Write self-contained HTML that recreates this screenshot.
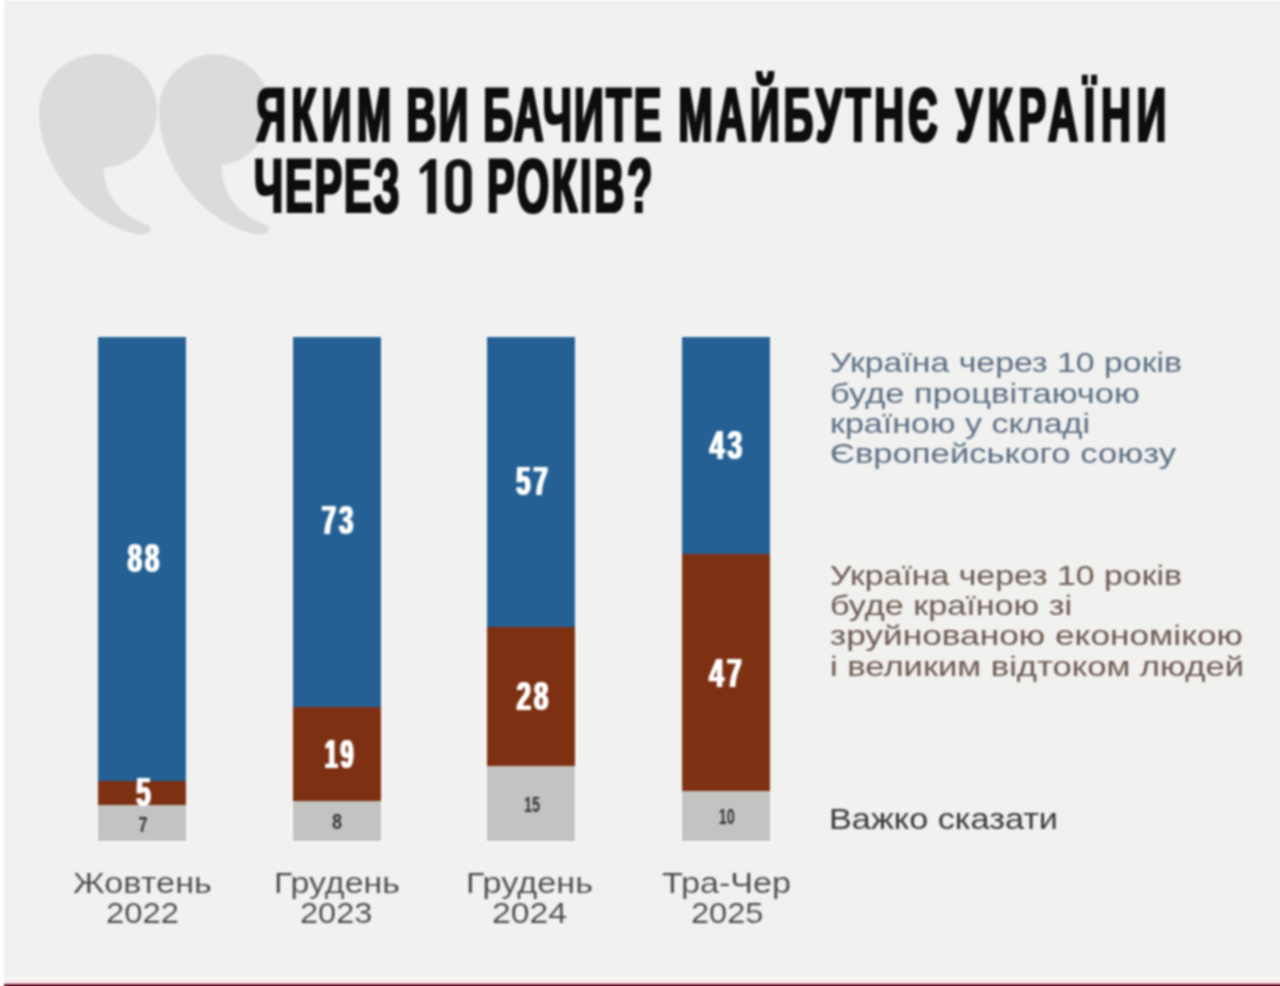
<!DOCTYPE html>
<html><head><meta charset="utf-8">
<style>
html,body{margin:0;padding:0;width:1280px;height:986px;overflow:hidden;background:#f1f1ef;}
svg{display:block;position:absolute;left:-10px;top:-10px;filter:blur(0.8px);}
</style></head>
<body>
<svg width="1300" height="1006" viewBox="-10 -10 1300 1006">
<rect x="-10" y="-10" width="1300" height="1006" fill="#f1f1ef"/>
<rect x="-10" y="-10" width="14" height="1006" fill="#ffffff"/>
<rect x="-10" y="-10" width="1300" height="11" fill="#ffffff"/>
<rect x="4" y="1" width="1286" height="2" fill="#ebebea"/>
<rect x="4" y="977" width="1286" height="3" fill="#f6f7f6"/>
<rect x="4" y="980" width="1286" height="4" fill="#fbe4e8"/>
<rect x="4" y="984" width="1286" height="12" fill="#5a0f22"/>

<!-- quote marks -->
<g fill="#dbdbda">
  <path d="M100,54 A57,57 0 0 1 103.5,167.9 C104,190 116,214 148,225 C155,228 150,236 138,234.5 C82,222 39,165 39,112 C39,80 66,54 100,54 Z"/>
  <path d="M215,54.5 A55.5,55.5 0 0 1 221.5,165.1 C222,190 234,214 266,225 C273,228 268,236 256,234.5 C201,222 159,165 159,111 C159,79 184,54.5 215,54.5 Z"/>
</g>

<!-- title -->
<filter id="thick" x="-5%" y="-20%" width="110%" height="140%"><feMorphology operator="dilate" radius="0.9 0.5"/></filter>
<g filter="url(#thick)" font-family="Liberation Sans" font-weight="bold" fill="#111111" font-size="75.5">
  <text transform="translate(256.35,141) scale(0.55,1)" letter-spacing="9.281">ЯКИМ</text>
  <text transform="translate(406.15,141) scale(0.55,1)" letter-spacing="4.476">ВИ</text>
  <text transform="translate(483.15,141) scale(0.55,1)" letter-spacing="4.026">БАЧИТЕ</text>
  <text transform="translate(678.15,141) scale(0.55,1)" letter-spacing="6.605">МАЙБУТНЄ</text>
  <text transform="translate(955.90,141) scale(0.55,1)" letter-spacing="10.317">УКРАЇНИ</text>
  <text transform="translate(254.00,212) scale(0.55,1)" letter-spacing="3.356">ЧЕРЕЗ</text>
  <text transform="translate(486.90,212) scale(0.55,1)" letter-spacing="5.011">РОКІВ?</text>
</g>
<g fill="#111111">
  <path d="M427.3,213.4 L427.3,169.5 L423.5,172.8 Q420,175.5 419.6,171.5 Q419.4,168.8 422,166.8 L430.2,159 L436.2,159 L436.2,213.4 Z"/>
  <path fill-rule="evenodd" d="M458.6,159 C466.5,159 471.8,164 471.8,172 L471.8,200.4 C471.8,208.4 466.5,213.4 458.6,213.4 C450.7,213.4 445.4,208.4 445.4,200.4 L445.4,172 C445.4,164 450.7,159 458.6,159 Z M458.2,166.3 C455.4,166.3 453.3,168.3 453.3,171.5 L453.3,200.8 C453.3,204 455.4,206 458.2,206 C461.1,206 463.2,204 463.2,200.8 L463.2,171.5 C463.2,168.3 461.1,166.3 458.2,166.3 Z"/>
</g>

<!-- bars -->
<g fill="#f4f7f6">
  <rect x="96" y="335" width="92" height="508"/>
  <rect x="291" y="335" width="92" height="508"/>
  <rect x="485" y="335" width="92" height="508"/>
  <rect x="680" y="335" width="92" height="508"/>
</g>
<g>
  <rect x="98" y="337" width="88" height="444" fill="#246094"/>
  <rect x="98" y="781" width="88" height="24" fill="#7d3012"/>
  <rect x="98" y="805" width="88" height="36" fill="#c3c3c1"/>

  <rect x="293" y="337" width="88" height="370" fill="#246094"/>
  <rect x="293" y="707" width="88" height="94" fill="#7d3012"/>
  <rect x="293" y="801" width="88" height="40" fill="#c3c3c1"/>

  <rect x="487" y="337" width="88" height="290" fill="#246094"/>
  <rect x="487" y="627" width="88" height="139" fill="#7d3012"/>
  <rect x="487" y="766" width="88" height="75" fill="#c3c3c1"/>

  <rect x="682" y="337" width="88" height="217" fill="#246094"/>
  <rect x="682" y="554" width="88" height="237" fill="#7d3012"/>
  <rect x="682" y="791" width="88" height="50" fill="#c3c3c1"/>
</g>

<!-- bar numbers -->
<filter id="thin" x="-20%" y="-20%" width="140%" height="140%"><feMorphology operator="dilate" radius="0.6 0.15"/></filter>
<g filter="url(#thin)" font-family="Liberation Sans" font-weight="bold" fill="#ffffff" font-size="41.5" text-anchor="middle" letter-spacing="5">
  <text x="145" y="571.5" textLength="34.5" lengthAdjust="spacingAndGlyphs">88</text>
  <text x="145" y="805.5" textLength="17.5" lengthAdjust="spacingAndGlyphs">5</text>
  <text x="339" y="533.5" textLength="34.5" lengthAdjust="spacingAndGlyphs">73</text>
  <text x="340.5" y="767.5" textLength="31.5" lengthAdjust="spacingAndGlyphs">19</text>
  <text x="533.5" y="494.5" textLength="34.5" lengthAdjust="spacingAndGlyphs">57</text>
  <text x="533.9" y="709.5" textLength="34.5" lengthAdjust="spacingAndGlyphs">28</text>
  <text x="727.5" y="458.5" textLength="35.5" lengthAdjust="spacingAndGlyphs">43</text>
  <text x="727" y="686.5" textLength="35.5" lengthAdjust="spacingAndGlyphs">47</text>
</g>
<g font-family="Liberation Sans" font-weight="bold" fill="#333333" font-size="22" text-anchor="middle">
  <text x="143" y="832" textLength="9" lengthAdjust="spacingAndGlyphs">7</text>
  <text x="337" y="828.5" textLength="10" lengthAdjust="spacingAndGlyphs">8</text>
  <text x="532" y="812" textLength="16" lengthAdjust="spacingAndGlyphs">15</text>
  <text x="726.7" y="824" textLength="16" lengthAdjust="spacingAndGlyphs">10</text>
</g>

<!-- axis labels -->
<g font-family="Liberation Sans" fill="#474747" stroke="#f1f1ef" stroke-width="0.15" font-size="30">
  <text x="73" y="893" textLength="139" lengthAdjust="spacingAndGlyphs">Жовтень</text>
  <text x="106" y="923" textLength="73" lengthAdjust="spacingAndGlyphs">2022</text>
  <text x="274" y="893" textLength="126" lengthAdjust="spacingAndGlyphs">Грудень</text>
  <text x="300" y="923" textLength="72.5" lengthAdjust="spacingAndGlyphs">2023</text>
  <text x="466" y="893" textLength="127" lengthAdjust="spacingAndGlyphs">Грудень</text>
  <text x="492" y="923" textLength="75" lengthAdjust="spacingAndGlyphs">2024</text>
  <text x="662" y="893" textLength="129" lengthAdjust="spacingAndGlyphs">Тра-Чер</text>
  <text x="691" y="923" textLength="72.5" lengthAdjust="spacingAndGlyphs">2025</text>
</g>

<!-- legend -->
<g font-family="Liberation Sans" font-size="27.5">
  <g fill="#5a6d83">
    <text x="830" y="372" textLength="352" lengthAdjust="spacingAndGlyphs">Україна через 10 років</text>
    <text x="830" y="402.5" textLength="310" lengthAdjust="spacingAndGlyphs">буде процвітаючою</text>
    <text x="830" y="433" textLength="260" lengthAdjust="spacingAndGlyphs">країною у складі</text>
    <text x="830" y="463" textLength="346" lengthAdjust="spacingAndGlyphs">Європейського союзу</text>
  </g>
  <g fill="#6a5850">
    <text x="830" y="585" textLength="352" lengthAdjust="spacingAndGlyphs">Україна через 10 років</text>
    <text x="830" y="615" textLength="242" lengthAdjust="spacingAndGlyphs">буде країною зі</text>
    <text x="830" y="645" textLength="413" lengthAdjust="spacingAndGlyphs">зруйнованою економікою</text>
    <text x="830" y="676" textLength="414" lengthAdjust="spacingAndGlyphs">і великим відтоком людей</text>
  </g>
  <text x="829" y="828.5" fill="#383838" font-size="29" textLength="229" lengthAdjust="spacingAndGlyphs">Важко сказати</text>
</g>
</svg>
</body></html>
